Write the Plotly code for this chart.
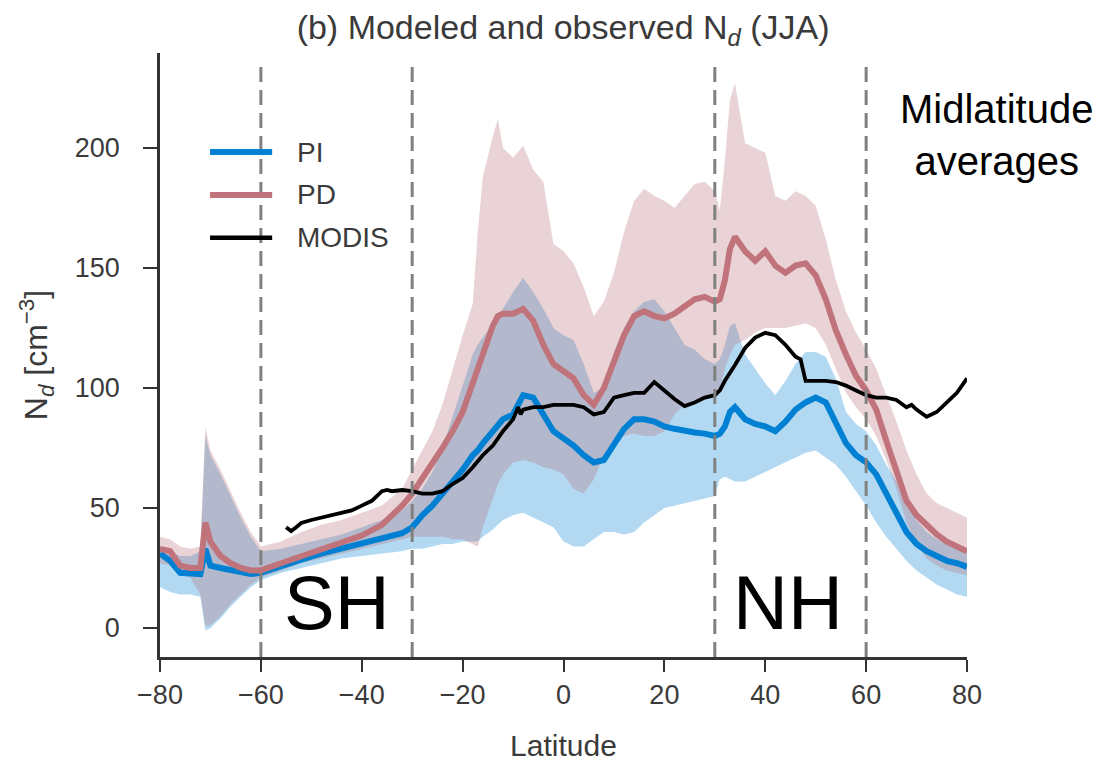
import plotly.graph_objects as go

# Model latitude grid (degrees)
lat_model = [
    -80, -78, -76, -74, -72, -71, -70, -68, -66, -64, -62, -60,
    -56, -52, -48, -44, -40, -36, -32, -30, -28, -26, -24, -22, -20,
    -18, -17, -16, -14, -13, -12, -10, -8, -6, -4, -2, 0,
    2, 4, 6, 8, 10, 12, 14, 16, 18, 20, 22, 24, 26, 28, 30,
    31, 32, 33, 34, 36, 38, 40, 42, 44, 46, 48, 50, 52, 54,
    56, 58, 60, 62, 64, 66, 68, 70, 72, 74, 76, 78, 80,
]

# Pre-industrial (PI) zonal mean Nd and spread
pi_mean = [
    31, 28, 23, 23, 22.5, 33, 26, 25, 24, 23, 22.5, 23,
    26, 28.5, 31, 33, 35, 37, 39.5, 42, 47, 51, 56, 61, 66,
    72, 74, 77, 82, 85, 87, 89, 97, 96, 89, 82, 79,
    76, 72, 69, 70, 76, 83, 87, 87, 86, 84, 83, 82, 81.5, 81, 80,
    81, 84, 90, 92, 87, 85, 84, 82, 86, 91, 94, 96, 94, 85,
    77, 72, 69, 64, 56, 48, 40, 35, 32, 30, 28, 27, 25.5,
]
pi_low = [
    17, 15, 14, 14, 13, -1, 0, 4, 9, 13, 17, 20,
    23, 25, 27, 29, 30, 31, 32, 33, 33, 34, 35, 35, 36,
    36, 36, 38, 41, 43, 45, 47, 48, 46, 44, 42, 36,
    34, 34, 37, 40, 40, 39, 40, 44, 47, 50, 51, 52, 53, 54, 55,
    62, 63, 62, 61, 61, 63, 65, 67, 69, 71, 73, 74, 71, 68,
    63, 57, 51, 44, 38, 33, 28, 24, 21, 18, 16, 14, 13,
]
pi_high = [
    34, 32, 30, 30, 32, 80, 72, 64, 55, 46, 38, 32,
    33, 35, 37, 39, 42, 45, 49, 53, 58, 65, 75, 88, 102,
    114, 118, 121, 127, 130, 133, 140, 146, 140, 133, 125, 122,
    120, 110, 98, 100, 115, 125, 132, 136, 137, 132, 125, 118, 116, 112, 110,
    112, 118, 126, 127, 114, 108, 102, 97, 103, 110, 115, 115, 113, 104,
    90, 85, 82, 76, 68, 61, 52, 45, 40, 37, 35, 34, 33,
]

# Present-day (PD) zonal mean Nd and spread
pd_mean = [
    33, 32, 26, 25, 25, 44, 36, 30, 27, 25, 24, 24,
    27, 30, 33, 35.5, 38.5, 43, 51, 56, 62, 68, 75, 82, 90,
    102, 108, 115, 126, 130, 131, 131, 133, 128, 118, 110, 107,
    104, 97, 93, 100, 111, 122, 130, 132, 130, 129, 131, 134, 137, 138, 136,
    137, 145, 158, 163, 157, 153, 157, 151, 148, 151, 152, 147, 137, 124,
    114, 105, 99, 91, 78, 66, 53, 47, 43, 39, 36, 34, 32,
]
pd_low = [
    27, 26, 22, 21, 14, 1, 1, 5, 10, 14, 18, 21,
    24, 27, 29, 31, 33, 35, 37, 38, 38, 38, 38, 37, 37,
    35, 34, 42, 54, 60, 64, 69, 70, 69, 67, 66, 64,
    58, 56, 62, 72, 78, 80, 81, 80, 80, 82, 89, 93, 95, 96, 97,
    100, 108, 114, 118, 120, 123, 125, 125, 125, 126, 127, 125, 118, 108,
    98, 92, 87, 80, 70, 58, 44, 35, 29, 26, 24, 23, 22,
]
pd_high = [
    38, 37, 34, 33, 34, 84, 74, 66, 57, 48, 40, 34,
    36, 40, 43, 45, 48, 51, 58, 66, 74, 82, 93, 108, 122,
    135, 165, 188, 205, 212, 200, 196, 201, 191, 186, 160, 157,
    152, 142, 130, 136, 148, 165, 178, 183, 180, 178, 175, 180, 185, 186, 182,
    174, 195, 220, 227, 202, 200, 198, 180, 178, 182, 180, 176, 162, 145,
    132, 123, 116, 108, 97, 86, 74, 64, 56, 52, 50, 48, 46,
]

# MODIS retrieval
lat_modis = [
    -55, -54, -53, -52, -50, -48, -46, -44, -42, -40, -38, -36, -35, -34,
    -32, -30, -28, -26, -24, -22, -20, -18, -16, -14, -12, -10, -9, -8.5,
    -8, -6, -4, -2, 0, 2, 4, 6, 8, 10, 12, 14, 16, 18, 20, 22, 24, 26,
    28, 30, 31, 32, 34, 36, 38, 40, 42, 44, 46, 47, 48, 50, 52, 54, 56,
    58, 60, 62, 64, 66, 68, 69, 70, 72, 74, 76, 78, 80,
]
modis = [
    42, 40.4, 42, 43.75, 45, 46, 47, 48, 49, 51, 53, 57, 57.5, 57,
    57.5, 57, 56, 56, 57, 60, 62.5, 67, 72, 76, 82, 87, 92, 89,
    91, 92, 92, 93, 93, 93, 92, 89, 90, 96, 97, 98, 98, 102.5, 99, 95.4, 92.5, 94,
    96, 97, 99, 103, 109.6, 116.7, 121, 123, 122, 118, 113, 112, 103, 103, 103, 102.5, 101,
    99, 97, 96, 96, 95, 92, 93, 91, 88, 90, 94, 98, 104,
]

# Hemispheric midlatitude band edges
band_edges = [-60, -30, 30, 60]

x_ticks = [-80, -60, -40, -20, 0, 20, 40, 60, 80]
y_ticks = [0, 50, 100, 150, 200]

BLUE = "rgb(0,128,210)"
RED = "rgb(192,115,122)"
BLUE_FILL = "rgba(0,128,210,0.30)"
RED_FILL = "rgba(182,108,118,0.30)"
AXIS = "#333333"
TEXT = "#3a3a3a"
NARROW = "Liberation Sans Narrow, Arial Narrow, Liberation Sans, Arial, sans-serif"
SANS = "Liberation Sans, Arial, sans-serif"

fig = go.Figure()


def band(lo, hi, color):
    return go.Scatter(
        x=lat_model + lat_model[::-1],
        y=hi + lo[::-1],
        fill="toself",
        fillcolor=color,
        line=dict(width=0),
        mode="lines",
        hoverinfo="skip",
        showlegend=False,
    )


fig.add_trace(band(pi_low, pi_high, BLUE_FILL))
fig.add_trace(band(pd_low, pd_high, RED_FILL))

fig.add_trace(go.Scatter(x=lat_model, y=pi_mean, mode="lines", name="PI",
                         line=dict(color=BLUE, width=6), showlegend=False))
fig.add_trace(go.Scatter(x=lat_model, y=pd_mean, mode="lines", name="PD",
                         line=dict(color=RED, width=6), showlegend=False))
fig.add_trace(go.Scatter(x=lat_modis, y=modis, mode="lines", name="MODIS",
                         line=dict(color="black", width=3.8), showlegend=False))

# Dashed boundaries of the midlatitude bands
for xe in band_edges:
    fig.add_shape(type="line", xref="x", yref="paper", x0=xe, x1=xe, y0=0, y1=0.982,
                  line=dict(color="#808080", width=3, dash="15px,8px"), layer="above")

# Legend drawn by hand so the key lines are as long as in the figure
legend_items = [("PI", BLUE, 6, 0.836), ("PD", RED, 6, 0.765), ("MODIS", "black", 4.5, 0.694)]
for label, color, width, yp in legend_items:
    fig.add_shape(type="line", xref="paper", yref="paper", x0=0.062, x1=0.139, y0=yp, y1=yp,
                  line=dict(color=color, width=width))
    fig.add_annotation(xref="paper", yref="paper", x=0.167, y=yp, text=label, showarrow=False,
                       xanchor="left", yanchor="middle", font=dict(family=NARROW, size=28, color=TEXT))

# Region labels
fig.add_annotation(x=-45, y=10.5, xref="x", yref="y", text="SH", showarrow=False,
                   xanchor="center", yanchor="middle",
                   font=dict(family=SANS, size=76, color="black"))
fig.add_annotation(x=44.5, y=10.5, xref="x", yref="y", text="NH", showarrow=False,
                   xanchor="center", yanchor="middle",
                   font=dict(family=SANS, size=76, color="black"))
fig.add_annotation(xref="paper", yref="paper", x=(996 - 160) / 807, y=(657 - 135) / 604,
                   xanchor="center", yanchor="middle",
                   text="Midlatitude<br>averages", showarrow=False, align="center",
                   font=dict(family=SANS, size=40, color="black"))

fig.update_layout(
    width=1114,
    height=764,
    margin=dict(l=160, r=147, t=53, b=107, autoexpand=False),
    paper_bgcolor="white",
    plot_bgcolor="white",
    title=dict(text="(b) Modeled and observed N<sub><i>d</i></sub> (JJA)", x=0.5055, xanchor="center",
               y=0.965, yanchor="middle", font=dict(family=NARROW, size=34, color=TEXT)),
    xaxis=dict(
        range=[-80, 80], tickvals=x_ticks, showgrid=False, zeroline=False, automargin=False,
        showline=True, linecolor=AXIS, linewidth=2.5, ticks="outside", ticklen=12,
        tickwidth=2, tickcolor=AXIS, tickfont=dict(family=NARROW, size=27, color=TEXT),
        title=dict(text="Latitude", font=dict(family=NARROW, size=30, color=TEXT), standoff=26),
    ),
    yaxis=dict(
        range=[-12.08, 239.6], tickvals=y_ticks, showgrid=False, zeroline=False, automargin=False,
        showline=True, linecolor=AXIS, linewidth=2.5, ticks="outside", ticklen=14,
        tickwidth=2, tickcolor=AXIS, tickfont=dict(family=NARROW, size=27, color=TEXT),
        ticklabelstandoff=18,
        title=dict(text="N<sub><i>d</i></sub> [cm<sup>\u22123</sup>]",
                   font=dict(family=NARROW, size=32, color=TEXT), standoff=18),
    ),
)

fig.write_html("out.html")
